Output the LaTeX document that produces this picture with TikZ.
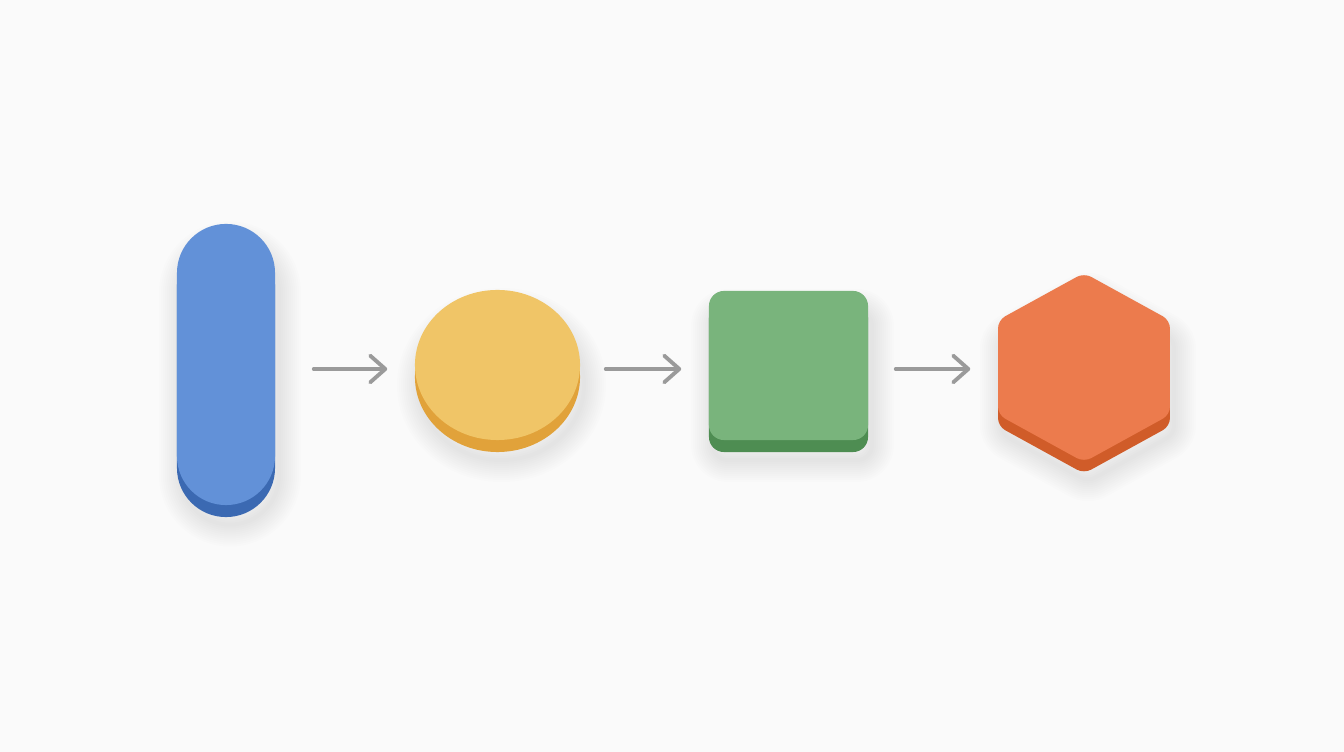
\documentclass[tikz,border=0pt]{standalone}
\usetikzlibrary{arrows.meta,shapes.geometric,positioning}

\definecolor{paper}{HTML}{FAFAFA}
\definecolor{arrowgrey}{HTML}{9A9A9A}
\definecolor{pilltop}{HTML}{6291D8}
\definecolor{pillside}{HTML}{3B69B2}
\definecolor{disctop}{HTML}{F0C567}
\definecolor{discside}{HTML}{E1A23A}
\definecolor{boxtop}{HTML}{79B47C}
\definecolor{boxside}{HTML}{4E8D52}
\definecolor{hextop}{HTML}{EC7B4D}
\definecolor{hexside}{HTML}{D05C29}

\tikzset{
  shadowlayer/.style={draw=black, draw opacity=0.008, line width=#1,
      line cap=round, line join=round},
  flow/.style={draw=arrowgrey, line width=1.1pt, line cap=round,
      -{Straight Barb[length=4.3pt, width=7.6pt, line cap=round, line join=round]},
      shorten >=0.27cm},
  pillshape/.style={rectangle, rounded corners=0.49cm, inner sep=0pt,
      minimum width=0.98cm, minimum height=2.81cm},
  discshape/.style={ellipse, inner sep=0pt, minimum width=1.65cm, minimum height=1.50cm},
  boxshape/.style={rectangle, rounded corners=0.15cm, inner sep=0pt,
      minimum width=1.59cm, minimum height=1.49cm},
  hexshape/.style={regular polygon, regular polygon sides=6, shape border rotate=30,
      rounded corners=0.08cm, inner sep=0pt, minimum size=1.89cm, xscale=1.05}
}

\begin{document}
\begin{tikzpicture}[x=0.01cm, y=-0.01cm]
  \fill[paper] (0,0) rectangle (1344,752);
  \useasboundingbox (0,0) rectangle (1344,752);

  % soft shadows
  \foreach \w in {4,8,...,44} {
    \node[pillshape, shadowlayer=\w*0.1mm] at (230,384) {};
    \node[discshape, shadowlayer=\w*0.1mm] at (501.5,385) {};
    \node[boxshape, shadowlayer=\w*0.1mm] at (792.5,385.5) {};
    \node[hexshape, shadowlayer=\w*0.1mm] at (1088,387) {};
  }

  % thickness under each face
  \node[pillshape, fill=pillside] (pillbase) at (226,376.5) {};
  \node[discshape, fill=discside] (discbase) at (497.5,377) {};
  \node[boxshape, fill=boxside] (boxbase) at (788.5,377.5) {};
  \node[hexshape, fill=hexside] (hexbase) at (1084,379) {};

  % faces
  \node[pillshape, fill=pilltop] (pill) at (226,364.5) {};
  \node[discshape, fill=disctop] (disc) at (497.5,365) {};
  \node[boxshape, fill=boxtop] (box) at (788.5,365.5) {};
  \node[hexshape, fill=hextop] (hex) at (1084,367.5) {};

  \draw[flow, shorten <=0.38cm] ([yshift=-0.45mm]pill.east) -- ([yshift=-0.45mm]pill.east -| disc.west);
  \draw[flow, shorten <=0.25cm] ([yshift=-0.4mm]disc.east) -- ([yshift=-0.4mm]disc.east -| box.west);
  \draw[flow, shorten <=0.27cm] ([yshift=-0.35mm]box.east) -- ([yshift=-0.35mm]box.east -| hex.west);
\end{tikzpicture}
\end{document}
